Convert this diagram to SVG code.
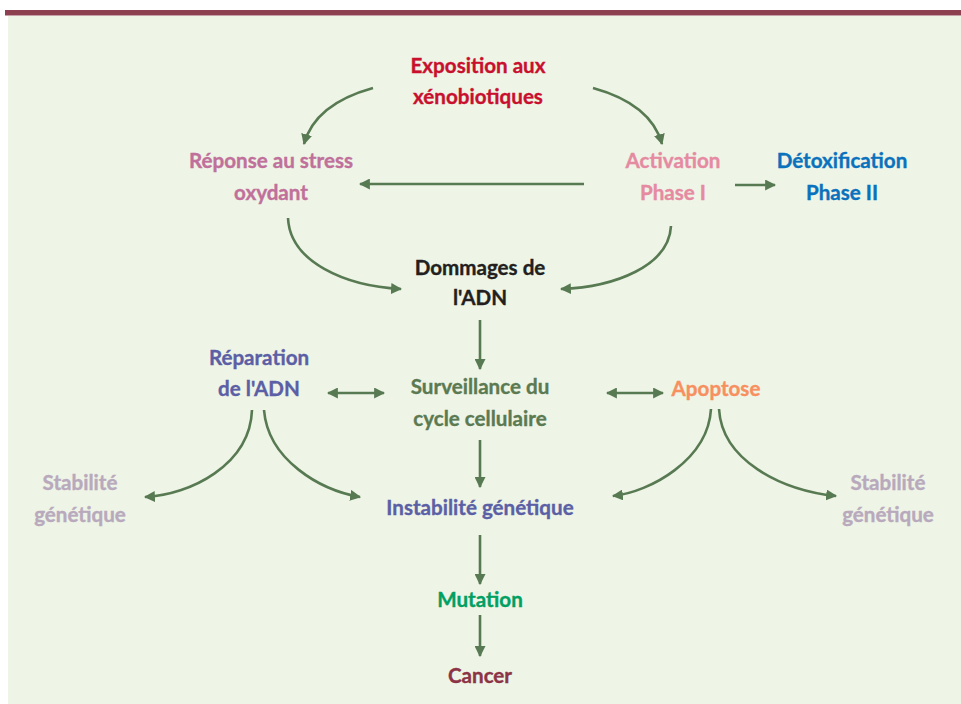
<svg xmlns="http://www.w3.org/2000/svg" width="961" height="704" viewBox="0 0 961 704">
<defs>
<style>
.t{font-family:Lato,"Open Sans","DejaVu Sans",sans-serif;font-weight:700;font-size:20.6px;text-anchor:middle;stroke-width:0.35px}
.c{fill:none;stroke:#587a52;stroke-width:2.6}
</style>
<marker id="ah" viewBox="0 0 10 10" refX="9" refY="5" markerWidth="11" markerHeight="11" markerUnits="userSpaceOnUse" orient="auto-start-reverse">
<path d="M0,0 L10,5 L0,10 z" fill="#587a52"/>
</marker>
</defs>
<rect x="0" y="0" width="961" height="704" fill="#ffffff"/>
<rect x="8" y="15" width="953" height="689" fill="#eef4e6"/>
<rect x="5" y="10" width="956" height="5" fill="#8c4050"/>
<rect x="5" y="15" width="956" height="1" fill="#c8a0a8"/>

<g id="connectors">
<path class="c" d="M373,88 Q315,104 304,144" marker-end="url(#ah)"/>
<path class="c" d="M593,88 Q651,104 662,144" marker-end="url(#ah)"/>
<path class="c" d="M584,184 L360,184" marker-end="url(#ah)"/>
<path class="c" d="M735,185 L775,185" marker-end="url(#ah)"/>
<path class="c" d="M288,218 C290,262 345,286 401,289" marker-end="url(#ah)"/>
<path class="c" d="M671,226 C669,266 615,287 561,289" marker-end="url(#ah)"/>
<path class="c" d="M480,320 L480,369" marker-end="url(#ah)"/>
<path class="c" d="M328,393 L384,393" marker-start="url(#ah)" marker-end="url(#ah)"/>
<path class="c" d="M607,393 L663,393" marker-start="url(#ah)" marker-end="url(#ah)"/>
<path class="c" d="M252,410 C250,465 190,495 145,497" marker-end="url(#ah)"/>
<path class="c" d="M264,410 C268,460 320,490 360,497" marker-end="url(#ah)"/>
<path class="c" d="M711,409 C708,460 650,492 613,496" marker-end="url(#ah)"/>
<path class="c" d="M719,409 C722,460 780,490 836,496" marker-end="url(#ah)"/>
<path class="c" d="M480,440 L480,487" marker-end="url(#ah)"/>
<path class="c" d="M480,535 L480,584" marker-end="url(#ah)"/>
<path class="c" d="M480,615 L480,656" marker-end="url(#ah)"/>
</g>

<g id="exposition"><text class="t" fill="#c8102e" stroke="#c8102e"><tspan x="478" y="73">Exposition aux</tspan><tspan x="478" y="104">xénobiotiques</tspan></text></g>
<g id="reponse"><text class="t" fill="#c0709a" stroke="#c0709a"><tspan x="271" y="168">Réponse au stress</tspan><tspan x="271" y="200">oxydant</tspan></text></g>
<g id="activation"><text class="t" fill="#e68aa2" stroke="#e68aa2"><tspan x="673" y="168">Activation</tspan><tspan x="673" y="200">Phase I</tspan></text></g>
<g id="detox"><text class="t" fill="#0a72bc" stroke="#0a72bc"><tspan x="842" y="168">Détoxification</tspan><tspan x="842" y="200">Phase II</tspan></text></g>
<g id="dommages"><text class="t" fill="#231f20" stroke="#231f20"><tspan x="480" y="275">Dommages de</tspan><tspan x="480" y="305">l'ADN</tspan></text></g>
<g id="reparation"><text class="t" fill="#5b5fa5" stroke="#5b5fa5"><tspan x="259" y="365">Réparation</tspan><tspan x="259" y="396">de l'ADN</tspan></text></g>
<g id="surveillance"><text class="t" fill="#5b7a52" stroke="#5b7a52"><tspan x="480" y="394">Surveillance du</tspan><tspan x="480" y="426">cycle cellulaire</tspan></text></g>
<g id="apoptose"><text class="t" fill="#f7905e" stroke="#f7905e"><tspan x="716" y="396">Apoptose</tspan></text></g>
<g id="stabilite-gauche"><text class="t" fill="#b8a9bc" stroke="#b8a9bc"><tspan x="80" y="490">Stabilité</tspan><tspan x="80" y="522">génétique</tspan></text></g>
<g id="instabilite"><text class="t" fill="#5b5fa5" stroke="#5b5fa5"><tspan x="480" y="515">Instabilité génétique</tspan></text></g>
<g id="stabilite-droite"><text class="t" fill="#b8a9bc" stroke="#b8a9bc"><tspan x="888" y="490">Stabilité</tspan><tspan x="888" y="522">génétique</tspan></text></g>
<g id="mutation"><text class="t" fill="#00a063" stroke="#00a063"><tspan x="480" y="607">Mutation</tspan></text></g>
<g id="cancer"><text class="t" fill="#8c3345" stroke="#8c3345"><tspan x="480" y="683">Cancer</tspan></text></g>
</svg>
